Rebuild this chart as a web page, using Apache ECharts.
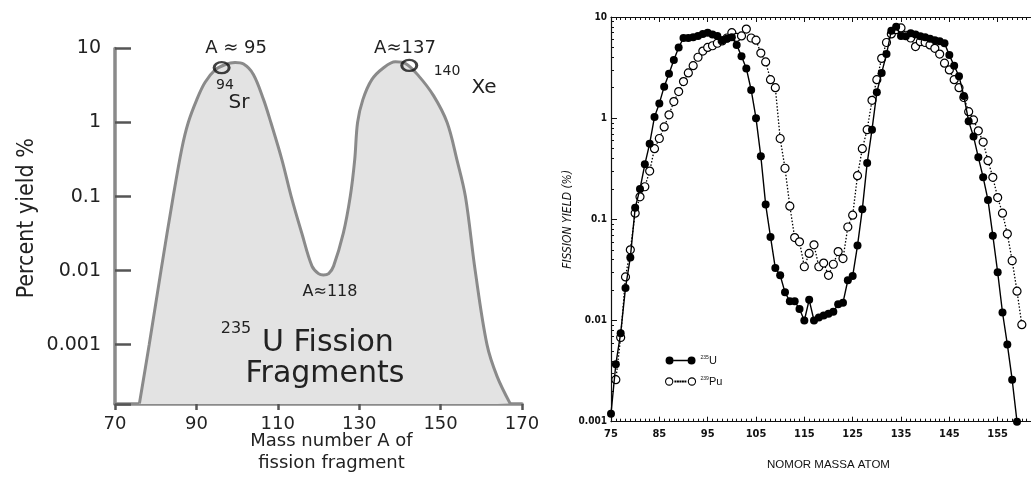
<!DOCTYPE html>
<html><head><meta charset="utf-8">
<script src="https://cdn.jsdelivr.net/npm/echarts@6/dist/echarts.min.js"></script>
<style>html,body{margin:0;padding:0;background:#fff}#c{width:1031px;height:479px}</style>
</head><body><div id="c"></div><script>
// ---- Left chart: schematic 235U fission fragment curve ----
const leftMass = [76.0, 78.4, 81.3, 84.3, 86.4, 88.0, 90.1, 92.1, 94.6, 97.0, 99.5, 101.6, 104.0, 106.5, 108.3, 111.0, 113.3, 115.9, 118.4, 120.0, 121.2, 122.5, 123.7, 126.1, 127.8, 128.9, 129.6, 130.9, 133.1, 136.0, 138.9, 141.3, 144.6, 148.3, 151.6, 154.0, 156.1, 158.5, 161.4, 163.9, 167.1];
const leftYield = [0.00016, 0.001, 0.01, 0.1, 0.44, 1.0, 2.04, 3.47, 5.13, 6.03, 6.46, 6.17, 4.47, 2.04, 1.0, 0.316, 0.1, 0.032, 0.0115, 0.0091, 0.0087, 0.0091, 0.0115, 0.032, 0.1, 0.316, 1.0, 2.04, 3.8, 5.5, 6.6, 6.3, 4.27, 2.29, 1.0, 0.316, 0.1, 0.01, 0.001, 0.00037, 0.00016];
const leftMarkMass = [96.2, 142.3];
const leftMarkYield = [5.5, 5.9];
const leftXTicks = [70, 90, 110, 130, 150, 170];
const leftYTicks = ['0.001', '0.01', '0.1', '1', '10'];

// ---- Right chart: 235U and 239Pu fission yields ----
const uMass = [75,76,77,78,79,80,81,82,83,84,85,86,87,88,89,90,91,92,93,94,95,96,97,98,99,100,101,102,103,104,105,106,107,108,109,110,111,112,113,114,115,116,117,118,119,120,121,122,123,124,125,126,127,128,129,130,131,132,133,134,135,136,137,138,139,140,141,142,143,144,145,146,147,148,149,150,151,152,153,154,155,156,157,158,159];
const uYield = [0.0012,0.0037,0.0075,0.021,0.042,0.13,0.20,0.35,0.56,1.03,1.40,2.05,2.75,3.75,5.0,6.2,6.2,6.3,6.5,6.8,7.0,6.7,6.5,5.9,6.1,6.3,5.3,4.1,3.1,1.9,1.0,0.42,0.14,0.067,0.033,0.028,0.019,0.0155,0.0155,0.013,0.010,0.016,0.010,0.0107,0.0112,0.0117,0.0122,0.0145,0.015,0.025,0.0275,0.055,0.126,0.36,0.77,1.8,2.8,4.3,7.3,8.0,6.5,6.45,6.9,6.7,6.45,6.3,6.1,5.9,5.75,5.5,4.2,3.3,2.6,1.66,0.93,0.66,0.41,0.26,0.155,0.069,0.030,0.012,0.0058,0.0026,0.001];
const puMass = [76,77,78,79,80,81,82,83,84,85,86,87,88,89,90,91,92,93,94,95,96,97,98,99,100,101,102,103,104,105,106,107,108,109,110,111,112,113,114,115,116,117,118,119,120,121,122,123,124,125,126,127,128,129,130,131,132,133,134,135,136,137,138,139,140,141,142,143,144,145,146,147,148,149,150,151,152,153,154,155,156,157,158,159,160];
const puYield = [0.0026,0.0068,0.027,0.05,0.115,0.167,0.21,0.30,0.50,0.63,0.82,1.08,1.46,1.83,2.3,2.8,3.3,4.0,4.6,5.0,5.2,5.5,5.8,6.2,7.0,6.3,6.5,7.6,6.2,5.9,4.4,3.6,2.4,2.0,0.63,0.32,0.135,0.066,0.060,0.034,0.046,0.056,0.034,0.037,0.028,0.036,0.048,0.041,0.084,0.11,0.27,0.50,0.77,1.5,2.4,3.9,5.6,6.8,7.5,7.8,6.6,6.2,5.1,5.7,5.6,5.3,4.9,4.3,3.5,3.0,2.4,2.0,1.6,1.16,0.96,0.75,0.58,0.38,0.26,0.164,0.115,0.072,0.039,0.0195,0.0091];
const rightXTicks = [75, 85, 95, 105, 115, 125, 135, 145, 155, 165];
const seriesNames = ['235U', '239Pu'];

const pair = (xs, ys) => xs.map((x, i) => [x, ys[i]]);
const isDecade = v => Math.abs(Math.log10(v) - Math.round(Math.log10(v))) < 1e-6;
const decadeLabel = v => {
  if (!isDecade(v)) return '';
  const k = Math.round(Math.log10(v));
  return leftYTicks[k + 3] || '';
};
const WIDE = "'DejaVu Sans', 'Liberation Sans', sans-serif";
const NARROW = "'Liberation Sans Narrow', 'DejaVu Sans Condensed', 'Liberation Sans', sans-serif";
const GRAYAX = '#8a8a8a';
const GRAYTICK = '#555';
const TXT = '#222';

const chart = echarts.init(document.getElementById('c'), null, {renderer: 'canvas'});
const option = {
  animation: false,
  backgroundColor: '#fff',
  grid: [
    {left: 115, top: 48.5, width: 407, height: 355.5, outerBoundsMode: 'none', containLabel: false},
    {left: 611, top: 17, width: 435, height: 404.7, outerBoundsMode: 'none', containLabel: false}
  ],
  xAxis: [
    {
      gridIndex: 0, type: 'value', min: leftXTicks[0], max: leftXTicks[leftXTicks.length - 1], interval: 20,
      splitLine: {show: false},
      axisLine: {lineStyle: {color: GRAYAX, width: 3.5}},
      axisTick: {inside: false, length: 6, lineStyle: {color: GRAYTICK, width: 2.5}},
      axisLabel: {color: TXT, fontFamily: WIDE, fontSize: 18, margin: 11},
      name: 'Mass number A of\nfission fragment', nameLocation: 'middle', nameGap: 26, nameMoveOverlap: false,
      nameTextStyle: {color: TXT, fontFamily: WIDE, fontSize: 18, lineHeight: 22, align: 'center', verticalAlign: 'top', padding: [0, 0, 0, 26]}
    },
    {
      gridIndex: 1, type: 'value', min: rightXTicks[0], max: rightXTicks[rightXTicks.length - 1], interval: 10,
      splitLine: {show: false},
      axisLine: {lineStyle: {color: '#111', width: 1.2}},
      axisTick: {inside: true, length: 5, lineStyle: {color: '#111', width: 1}},
      minorTick: {show: true, splitNumber: 10, length: 3, lineStyle: {color: '#111', width: 1}},
      axisLabel: {color: '#111', fontFamily: NARROW, fontWeight: 'bold', fontSize: 11, margin: 7},
      name: 'NOMOR MASSA ATOM', nameLocation: 'middle', nameGap: 37,
      nameTextStyle: {color: '#111', fontFamily: "'Liberation Sans', sans-serif", fontSize: 11.5}
    },
    {
      gridIndex: 1, type: 'value', position: 'top', min: rightXTicks[0], max: rightXTicks[rightXTicks.length - 1], interval: 10,
      splitLine: {show: false},
      axisLine: {lineStyle: {color: '#111', width: 1.2}},
      axisTick: {inside: true, length: 5, lineStyle: {color: '#111', width: 1}},
      minorTick: {show: true, splitNumber: 10, length: 3, lineStyle: {color: '#111', width: 1}},
      axisLabel: {show: false}
    }
  ],
  yAxis: [
    {
      gridIndex: 0, type: 'log', logBase: 10, min: 0.000158, max: 10,
      splitLine: {show: false},
      axisLine: {show: true, lineStyle: {color: GRAYAX, width: 3.5}},
      axisTick: {inside: true, length: 16, lineStyle: {color: GRAYTICK, width: 2.5}},
      axisLabel: {color: TXT, fontFamily: WIDE, fontSize: 19, margin: 14, formatter: decadeLabel},
      name: 'Percent yield %', nameLocation: 'middle', nameRotate: 90, nameGap: 76,
      nameTextStyle: {color: TXT, fontFamily: NARROW, fontSize: 23, padding: [0, 0, 0, 16]}
    },
    {
      gridIndex: 1, type: 'log', logBase: 10, min: 0.001, max: 10,
      splitLine: {show: false},
      axisLine: {show: true, lineStyle: {color: '#111', width: 1.2}},
      axisTick: {inside: true, length: 6, lineStyle: {color: '#111', width: 1}},
      minorTick: {show: true, splitNumber: 9, length: 3, lineStyle: {color: '#111', width: 1}},
      axisLabel: {color: '#111', fontFamily: NARROW, fontWeight: 'bold', fontSize: 10, margin: 4},
      name: 'FISSION YIELD (%)', nameLocation: 'middle', nameRotate: 90, nameGap: 37,
      nameTextStyle: {color: '#111', fontFamily: NARROW, fontStyle: 'italic', fontSize: 12}
    }
  ],
  legend: {
    left: 660, top: 350, orient: 'vertical', itemGap: 10, itemWidth: 30, itemHeight: 8,
    data: [
      {name: seriesNames[0], icon: 'path://M0,4.5a4,4 0 1,0 8,0a4,4 0 1,0 -8,0zM8,3.8h14v1.4h-14zM22,4.5a4,4 0 1,0 8,0a4,4 0 1,0 -8,0z',
       itemStyle: {color: '#000', borderWidth: 0}},
      {name: seriesNames[1], icon: 'path://M0.5,4.5a3.5,3.5 0 1,0 7,0a3.5,3.5 0 1,0 -7,0zM9.6,4h0.9v0.9h-0.9zM12,4h0.9v0.9h-0.9zM14.4,4h0.9v0.9h-0.9zM16.8,4h0.9v0.9h-0.9zM19.2,4h0.9v0.9h-0.9zM22.5,4.5a3.5,3.5 0 1,0 7,0a3.5,3.5 0 1,0 -7,0z',
       itemStyle: {color: '#fff', borderColor: '#000', borderWidth: 1.1}}
    ],
    formatter: n => n === seriesNames[0] ? '{s|235}U' : '{s|239}Pu',
    textStyle: {color: '#111', fontFamily: "'Liberation Sans', sans-serif", fontSize: 11,
      rich: {s: {fontSize: 5, verticalAlign: 'top', fontFamily: "'Liberation Sans', sans-serif"}}}
  },
  series: [
    {
      name: 'curve', type: 'line', xAxisIndex: 0, yAxisIndex: 0, data: pair(leftMass, leftYield),
      smooth: 0.35, showSymbol: false, symbol: 'none',
      lineStyle: {color: '#8a8a8a', width: 3},
      areaStyle: {color: '#e3e3e3', opacity: 1, origin: 'start'},
      z: 2
    },
    {
      name: 'marks', type: 'scatter', xAxisIndex: 0, yAxisIndex: 0, data: pair(leftMarkMass, leftMarkYield),
      symbol: 'circle', symbolSize: [15, 11],
      itemStyle: {color: 'rgba(0,0,0,0)', borderColor: '#111', borderWidth: 2.6},
      z: 3
    },
    {
      name: seriesNames[1], type: 'line', xAxisIndex: 1, yAxisIndex: 1, data: pair(puMass, puYield),
      symbol: 'circle', symbolSize: 8, showAllSymbol: true,
      itemStyle: {color: '#fff', borderColor: '#000', borderWidth: 1.2},
      lineStyle: {color: '#000', width: 1.3, type: [1.5, 1.8]},
      z: 3
    },
    {
      name: seriesNames[0], type: 'line', xAxisIndex: 1, yAxisIndex: 1, data: pair(uMass, uYield),
      symbol: 'circle', symbolSize: 8, showAllSymbol: true,
      itemStyle: {color: '#000', borderWidth: 0},
      lineStyle: {color: '#000', width: 1.4},
      z: 4
    }
  ],
  graphic: [
    {type: 'text', x: 236, y: 48, z: 10, style: {text: 'A ≈ 95', font: "18px " + WIDE, fill: TXT, align: 'center', verticalAlign: 'middle'}},
    {type: 'text', x: 405, y: 48, z: 10, style: {text: 'A≈137', font: "18px " + WIDE, fill: TXT, align: 'center', verticalAlign: 'middle'}},
    {type: 'text', x: 225, y: 85, z: 10, style: {text: '94', font: "14px " + WIDE, fill: TXT, align: 'center', verticalAlign: 'middle'}},
    {type: 'text', x: 239, y: 103, z: 10, style: {text: 'Sr', font: "20px " + WIDE, fill: TXT, align: 'center', verticalAlign: 'middle'}},
    {type: 'text', x: 447, y: 71, z: 10, style: {text: '140', font: "14px " + WIDE, fill: TXT, align: 'center', verticalAlign: 'middle'}},
    {type: 'text', x: 484, y: 88, z: 10, style: {text: 'Xe', font: "20px " + WIDE, fill: TXT, align: 'center', verticalAlign: 'middle'}},
    {type: 'text', x: 330, y: 292, z: 10, style: {text: 'A≈118', font: "16px " + WIDE, fill: TXT, align: 'center', verticalAlign: 'middle'}},
    {type: 'text', x: 236, y: 329, z: 10, style: {text: '235', font: "16px " + WIDE, fill: TXT, align: 'center', verticalAlign: 'middle'}},
    {type: 'text', x: 262, y: 343, z: 10, style: {text: 'U Fission', font: "30px " + WIDE, fill: TXT, align: 'left', verticalAlign: 'middle'}},
    {type: 'text', x: 325, y: 374, z: 10, style: {text: 'Fragments', font: "30px " + WIDE, fill: TXT, align: 'center', verticalAlign: 'middle'}}
  ]
};
chart.setOption(option);
</script></body></html>
